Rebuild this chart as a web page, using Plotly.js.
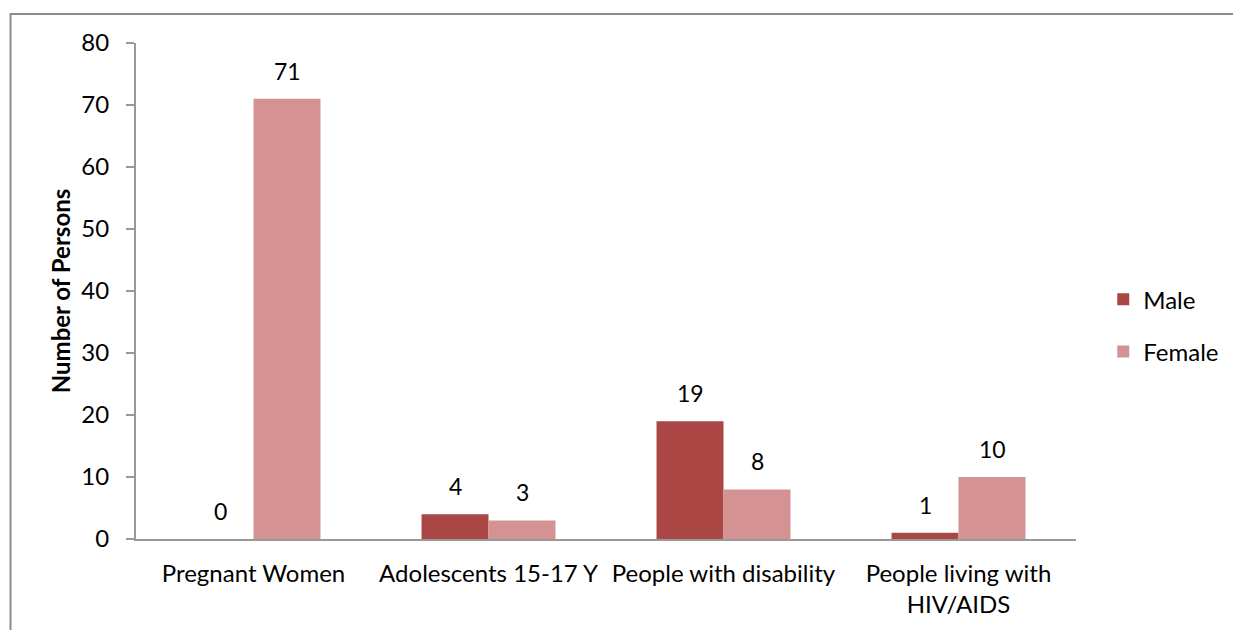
<!DOCTYPE html>
<html>
<head>
<meta charset="utf-8">
<script src="https://cdn.plot.ly/plotly-3.0.1.min.js"></script>
<style>
html,body{margin:0;padding:0;background:#fff;}
#chart{width:1233px;height:630px;}
</style>
</head>
<body>
<div id="chart"></div>
<script>
const categories = ["Pregnant Women", "Adolescents 15-17 Y", "People with disability", "People living with<br>HIV/AIDS"];
const maleValues = [0, 4, 19, 1];
const femaleValues = [71, 3, 8, 10];
const yTicks = [0, 10, 20, 30, 40, 50, 60, 70, 80];

const FONT = "Lato, 'Open Sans', sans-serif";
const maleColor = "#AA4643";
const femaleColor = "#D49392";

const traces = [
  {type: "bar", name: "Male", x: categories, y: maleValues, marker: {color: maleColor}, legendgroup: "m", hoverinfo: "none"},
  {type: "bar", name: "Female", x: categories, y: femaleValues, marker: {color: femaleColor}, legendgroup: "f", hoverinfo: "none"}
];

const annotations = [];
categories.forEach((c, i) => {
  annotations.push({x: c, y: maleValues[i], xref: "x", yref: "y", text: String(maleValues[i]), showarrow: false, xshift: -33.5, yanchor: "bottom", yshift: 12, font: {family: FONT, size: 23, color: "#000"}});
  annotations.push({x: c, y: femaleValues[i], xref: "x", yref: "y", text: String(femaleValues[i]), showarrow: false, xshift: 33.5, yanchor: "bottom", yshift: 12, font: {family: FONT, size: 23, color: "#000"}});
});

const layout = {
  width: 1233, height: 630,
  margin: {l: 136, r: 157, t: 43, b: 91, autoexpand: false},
  paper_bgcolor: "#fff", plot_bgcolor: "#fff",
  font: {family: FONT, size: 24, color: "#000"},
  barmode: "group",
  bargap: 0.43, bargroupgap: 0,
  showlegend: true,
  legend: {x: 1.029, y: 0.43, xanchor: "left", yanchor: "middle", font: {family: FONT, size: 24, color: "#000"}, tracegroupgap: 18, bgcolor: "rgba(0,0,0,0)"},
  xaxis: {
    type: "category", showgrid: false, zeroline: false,
    showline: true, linecolor: "#999", linewidth: 2,
    ticks: "", ticklabelstandoff: 12,
    tickfont: {family: FONT, size: 24, color: "#000"}
  },
  yaxis: {
    range: [0, 80], tickvals: yTicks, ticktext: yTicks.map(String),
    showgrid: false, zeroline: false,
    showline: true, linecolor: "#999", linewidth: 2,
    ticks: "outside", ticklen: 8, tickcolor: "#999", tickwidth: 2,
    ticklabelstandoff: 12,
    tickfont: {family: FONT, size: 24, color: "#000"},
    title: {text: "<b>Number of Persons</b>", font: {family: FONT, size: 24, color: "#000"}, standoff: 4}
  },
  annotations: annotations,
  shapes: [{
    type: "rect", xref: "paper", yref: "paper",
    x0: -0.1335, x1: 1.3, y0: -0.4, y1: 1.0585,
    line: {color: "#8c8c8c", width: 2}, fillcolor: "rgba(0,0,0,0)", layer: "below"
  }]
};

Plotly.newPlot("chart", traces, layout, {displayModeBar: false, staticPlot: true});
</script>
</body>
</html>
